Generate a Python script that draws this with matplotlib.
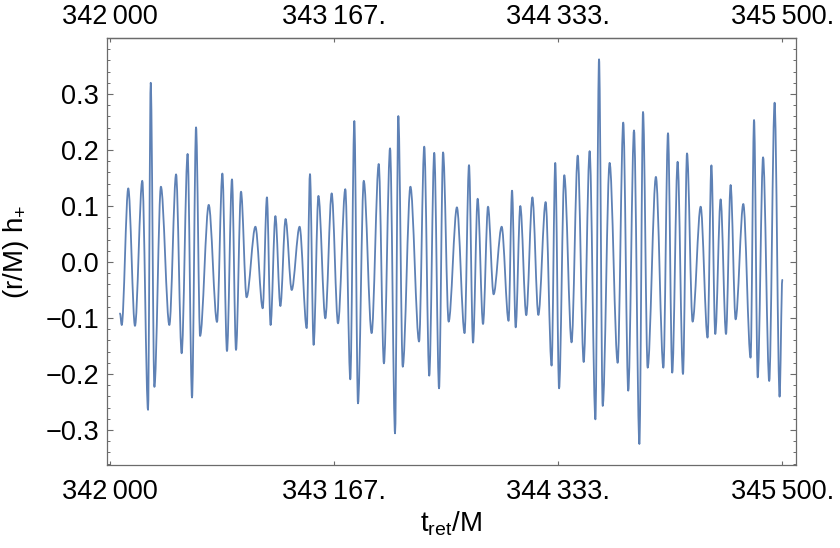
import numpy as np
import matplotlib
matplotlib.use("Agg")
import matplotlib.pyplot as plt
from matplotlib.path import Path
from matplotlib.patches import PathPatch
from matplotlib.ticker import MultipleLocator

# Extremos da forma de onda (t_ret/M, (r/M) h+)
t_ret = [
    342052, 342061, 342095, 342130, 342168, 342198, 342212, 342231, 342265, 342309,
    342344, 342373, 342404, 342427, 342448, 342469, 342514, 342557, 342585, 342609,
    342635, 342656, 342682, 342711, 342757, 342795, 342817, 342836, 342861, 342887,
    342914, 342946, 342987, 343024, 343041, 343060, 343085, 343121, 343154, 343187,
    343225, 343251, 343272, 343291, 343321, 343362, 343399, 343426, 343458, 343484,
    343501, 343524, 343564, 343609, 343636, 343662, 343688, 343713, 343734, 343763,
    343806, 343846, 343869, 343890, 343914, 343942, 343968, 343997, 344039, 344075,
    344093, 344112, 344136, 344167, 344199, 344230, 344268, 344299, 344318, 344338,
    344365, 344403, 344435, 344466, 344497, 344527, 344546, 344565, 344601, 344643,
    344672, 344698, 344728, 344756, 344775, 344799, 344842, 344881, 344905, 344927,
    344955, 344983, 345004, 345033, 345075, 345111, 345131, 345151, 345179, 345207,
    345231, 345257, 345297, 345335, 345353, 345372, 345400, 345432, 345460, 345486,
    345500,
]
h_plus = [
    -0.092, -0.1125, 0.1315, -0.114, 0.145, -0.264, 0.320, -0.223, 0.1345, -0.1125,
    0.1565, -0.163, 0.193, -0.242, 0.2405, -0.132, 0.102, -0.107, 0.158, -0.159,
    0.1476, -0.157, 0.1256, -0.063, 0.063, -0.0827, 0.1155, -0.1125, 0.082, -0.0786,
    0.0768, -0.050, 0.063, -0.118, 0.157, -0.148, 0.118, -0.1006, 0.1226, -0.1095,
    0.130, -0.2095, 0.2518, -0.2524, 0.145, -0.127, 0.175, -0.181, 0.203, -0.306,
    0.2607, -0.187, 0.1345, -0.142, 0.206, -0.203, 0.195, -0.2256, 0.1958, -0.1065,
    0.0976, -0.127, 0.173, -0.144, 0.113, -0.1107, 0.0988, -0.0577, 0.063, -0.105,
    0.1274, -0.1167, 0.100, -0.095, 0.1155, -0.0946, 0.107, -0.185, 0.177, -0.2256,
    0.155, -0.1435, 0.190, -0.1786, 0.198, -0.281, 0.362, -0.257, 0.177, -0.180,
    0.249, -0.2298, 0.235, -0.325, 0.268, -0.1887, 0.152, -0.1887, 0.230, -0.1976,
    0.179, -0.200, 0.194, -0.1065, 0.0988, -0.135, 0.1726, -0.1286, 0.1119, -0.1286,
    0.1375, -0.1024, 0.1036, -0.1708, 0.2536, -0.206, 0.187, -0.2125, 0.2845, -0.2405,
    -0.032,
]

x_ticks = [342000, 342000 + 3500 / 3, 342000 + 7000 / 3, 345500]
x_ticklabels = ["342\u2009000", "343\u2009167.", "344\u2009333.", "345\u2009500."]
y_ticks = [-0.3, -0.2, -0.1, 0.0, 0.1, 0.2, 0.3]
y_ticklabels = ["\u22120.3", "\u22120.2", "\u22120.1", "0.0", "0.1", "0.2", "0.3"]

AZUL = "#5E81B5"
MOLDURA = "#6b6b6b"

plt.rcParams["font.family"] = ["Liberation Sans", "DejaVu Sans"]
plt.rcParams["mathtext.fontset"] = "custom"
plt.rcParams["mathtext.rm"] = "Liberation Sans"
plt.rcParams["mathtext.it"] = "Liberation Sans"


def curva_suave(t, h):
    # liga os extremos com cúbicas de tangente horizontal
    verts = [(t[0], h[0])]
    codes = [Path.MOVETO]
    for i in range(len(t) - 1):
        dt = t[i + 1] - t[i]
        verts += [(t[i] + dt / 3, h[i]), (t[i + 1] - dt / 3, h[i + 1]), (t[i + 1], h[i + 1])]
        codes += [Path.CURVE4] * 3
    return Path(verts, codes)


fig = plt.figure(figsize=(8.4, 5.48), dpi=100)
ax = fig.add_axes([106.7 / 840, 1 - 465 / 548, 689 / 840, 426.7 / 548])

ax.add_patch(PathPatch(curva_suave(t_ret, h_plus), fill=False, edgecolor=AZUL,
                       lw=1.3, joinstyle="round", capstyle="round"))

ax.set_xlim(341982.8, 345569.8)
ax.set_ylim(-0.3625, 0.3995)

ax.set_xticks(x_ticks)
ax.set_xticklabels(x_ticklabels)
ax.set_yticks(y_ticks)
ax.set_yticklabels(y_ticklabels)
ax.yaxis.set_minor_locator(MultipleLocator(0.02))

for s in ax.spines.values():
    s.set_color(MOLDURA)
    s.set_linewidth(0.9)

ax.tick_params(axis="both", which="both", direction="in", color=MOLDURA,
               labelsize=19.5, labelcolor="black")
ax.tick_params(axis="x", which="major", top=False, length=3, width=0.8, pad=10)
ax.tick_params(axis="y", which="major", right=True, length=4, width=0.8, pad=5.5)
ax.tick_params(axis="y", which="minor", right=True, length=2.2, width=0.7)

# eixo de cima com os mesmos rótulos
topo = ax.secondary_xaxis("top")
topo.set_xticks(x_ticks)
topo.set_xticklabels(x_ticklabels)
topo.tick_params(direction="in", length=3, width=0.8, pad=6, color=MOLDURA,
                 labelsize=19.5, labelcolor="black")
topo.spines["top"].set_color(MOLDURA)
topo.spines["top"].set_linewidth(0.9)

ax.set_xlabel(r"$\mathrm{t_{ret}/M}$", fontsize=20, labelpad=3)
ax.set_ylabel(r"$\mathrm{(r/M)\ h_{+}}$", fontsize=20)
ax.yaxis.set_label_coords(-0.11, 0.5)

fig.savefig("out.png", dpi=100, facecolor="white")
